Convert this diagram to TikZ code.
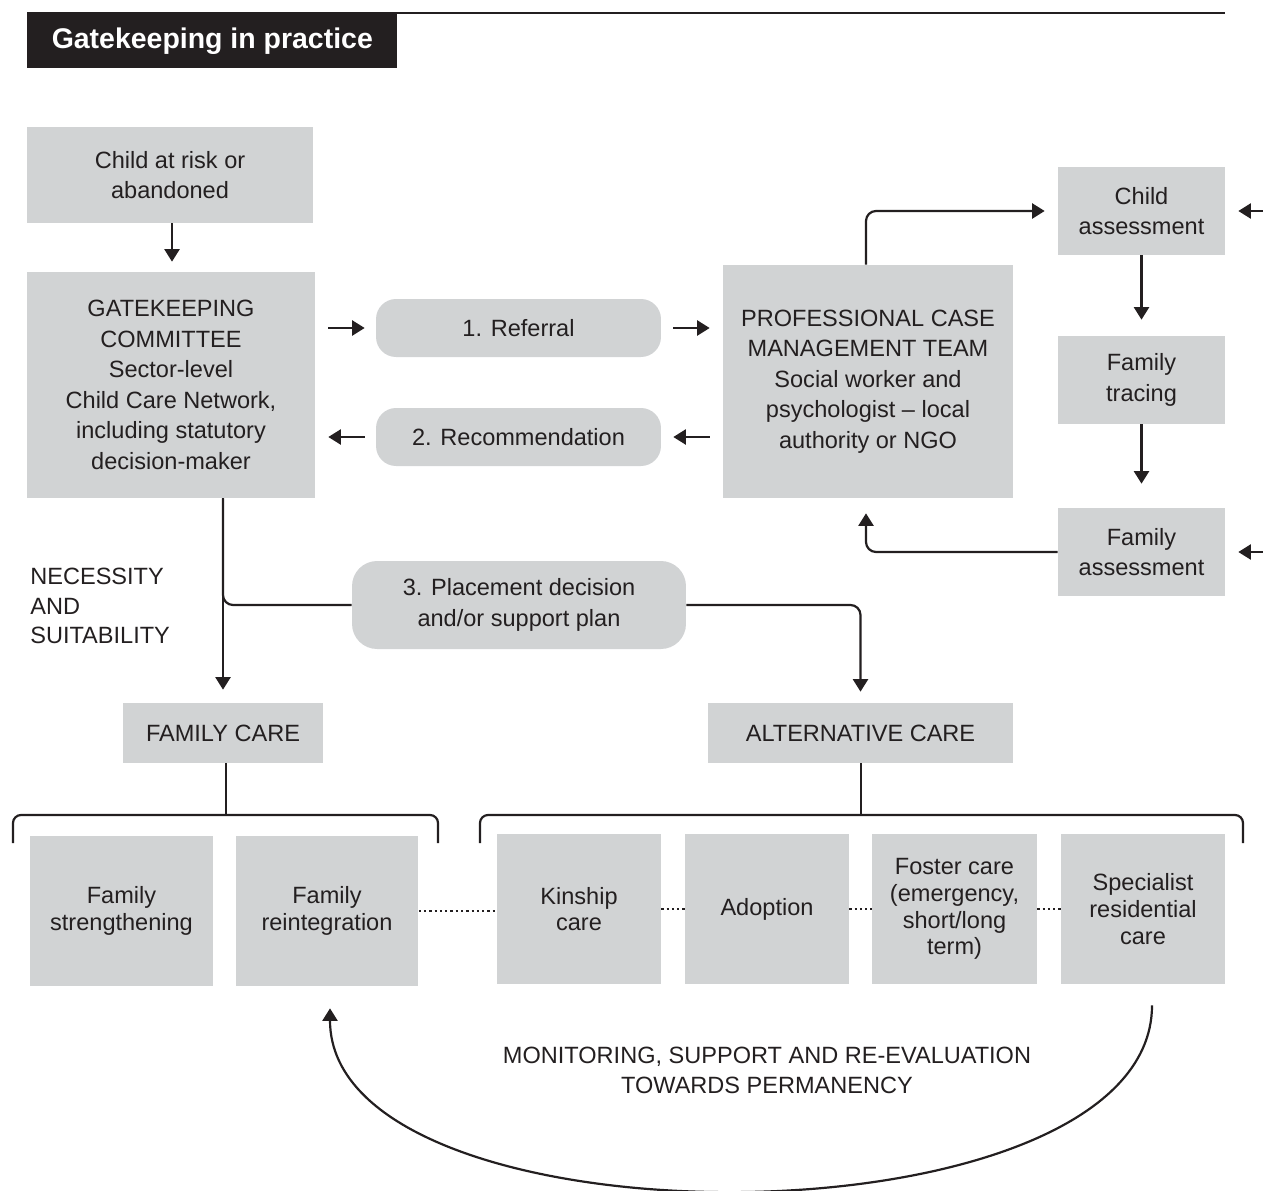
\documentclass[tikz,border=0pt]{standalone}
\usepackage{fontspec}
\setmainfont{Liberation Sans}
\usepackage{tikz}
\usetikzlibrary{arrows.meta, calc}
\definecolor{boxgray}{RGB}{209,211,212}
\definecolor{inkdark}{RGB}{35,31,32}
\tikzstyle{graybox} = [rectangle, fill=boxgray, text=inkdark, align=center, inner sep=2pt, font=\fontsize{13.4}{17.4}\selectfont]
\tikzstyle{carebox} = [graybox, minimum width=3.28cm, minimum height=3cm, font=\fontsize{13.4}{15.2}\selectfont]
\tikzstyle{pill} = [graybox, rounded corners=0.4cm]
\tikzstyle{arrow} = [line width=1.25pt, draw=inkdark, -{Triangle[length=0.25cm, width=0.3cm]}]
\tikzstyle{link} = [line width=1.25pt, draw=inkdark]
\tikzstyle{dotlink} = [line width=1.3pt, draw=inkdark, dash pattern=on 1.3pt off 1.7pt]
\tikzstyle{plaintext} = [text=inkdark, inner sep=0pt, font=\fontsize{13.4}{17.2}\selectfont]

\begin{document}
\begin{tikzpicture}[x=0.02cm, y=-0.02cm]

    \useasboundingbox (0,0) rectangle (1263,1190);

    \node (title) [rectangle, fill=inkdark, text=white, anchor=north west, minimum width=7.4cm, minimum height=1.1cm, font=\fontsize{16.2}{19}\selectfont\bfseries] at (27,13) {Gatekeeping in practice};

    \node (child_at_risk) [graybox, minimum width=5.72cm, minimum height=1.92cm] at (170,175) {Child at risk or\\abandoned};

    \node (gatekeeping_committee) [graybox, minimum width=5.76cm, minimum height=4.52cm] at (171,385) {GATEKEEPING\\COMMITTEE\\Sector-level\\Child Care Network,\\including statutory\\decision-maker};

    \node (referral) [pill, minimum width=5.7cm, minimum height=1.16cm] at (518.5,328) {1. Referral};

    \node (recommendation) [pill, minimum width=5.7cm, minimum height=1.16cm] at (518.5,437) {2. Recommendation};

    \node (case_team) [graybox, minimum width=5.8cm, minimum height=4.66cm] at (868,381.5) {PROFESSIONAL CASE\\MANAGEMENT TEAM\\Social worker and\\psychologist -- local\\authority or NGO};

    \node (child_assessment) [graybox, minimum width=3.34cm, minimum height=1.76cm] at (1141.5,211) {Child\\assessment};

    \node (family_tracing) [graybox, minimum width=3.34cm, minimum height=1.76cm] at (1141.5,380) {Family\\tracing};

    \node (family_assessment) [graybox, minimum width=3.34cm, minimum height=1.76cm] at (1141.5,552) {Family\\assessment};

    \node (placement_decision) [pill, rounded corners=0.5cm, minimum width=6.68cm, minimum height=1.76cm] at (519,605) {3. Placement decision\\and/or support plan};

    \node (necessity) [plaintext, anchor=west, align=left, font=\fontsize{13.4}{17}\selectfont] at (30,606) {NECESSITY\\AND\\SUITABILITY};

    \node (family_care) [graybox, minimum width=4cm, minimum height=1.2cm] at (223,733) {FAMILY CARE};

    \node (alternative_care) [graybox, minimum width=6.1cm, minimum height=1.2cm] at (860.5,733) {ALTERNATIVE CARE};

    \node (family_strengthening) [carebox, minimum width=3.66cm] at (121.5,911) {Family\\strengthening};

    \node (family_reintegration) [carebox, minimum width=3.66cm] at (327,911) {Family\\reintegration};

    \node (kinship_care) [carebox] at (579,909) {Kinship\\care};

    \node (adoption) [carebox] at (767,909) {Adoption};

    \node (foster_care) [carebox, minimum width=3.3cm] at (954.5,909) {Foster care\\(emergency,\\short/long\\term)};

    \node (residential_care) [carebox] at (1143,909) {Specialist\\residential\\care};

    \node (monitoring) [plaintext, align=center] at (767,1070) {MONITORING, SUPPORT AND RE-EVALUATION\\TOWARDS PERMANENCY};

    \coordinate (right_in_top) at (1263,211);
    \coordinate (right_in_bottom) at (1263,552);
    \coordinate (family_bracket) at (226,815);
    \coordinate (alternative_bracket) at (861,815);
    \coordinate (loop_start) at ([xshift=0.18cm, yshift=-0.42cm]residential_care.south);
    \coordinate (loop_end) at ([xshift=0.06cm, yshift=-0.44cm]family_reintegration.south);

    \draw [link, line width=0.04cm] (title.north west) -- (title.north west -| residential_care.east);

    \draw [arrow, shorten >=0.2cm] (child_at_risk.south -| 172,0) -- (gatekeeping_committee.north -| 172,0);

    \draw [arrow, shorten <=0.26cm, shorten >=0.22cm] (gatekeeping_committee.east |- referral.west) -- (referral.west);

    \draw [arrow, shorten <=0.24cm, shorten >=0.26cm] (referral.east) -- (case_team.west |- referral.east);

    \draw [arrow, shorten <=0.26cm, shorten >=0.24cm] (case_team.west |- recommendation.east) -- (recommendation.east);

    \draw [arrow, shorten <=0.22cm, shorten >=0.26cm] (recommendation.west) -- (gatekeeping_committee.east |- recommendation.west);

    \draw [arrow, rounded corners=0.2cm, shorten >=0.26cm] (case_team.north -| 866,0) |- (child_assessment.west);

    \draw [arrow, shorten >=0.26cm] (right_in_top) -- (child_assessment.east);

    \draw [arrow, shorten >=0.32cm] (child_assessment.south) -- (family_tracing.north);

    \draw [arrow, shorten >=0.48cm] (family_tracing.south) -- (family_assessment.north);

    \draw [arrow, shorten >=0.26cm] (right_in_bottom) -- (family_assessment.east);

    \draw [arrow, rounded corners=0.2cm, shorten >=0.3cm] (family_assessment.west) -| (case_team.south -| 866,0);

    \draw [arrow, shorten >=0.26cm] (gatekeeping_committee.south -| family_care.north) -- (family_care.north);

    \draw [link, rounded corners=0.2cm] (gatekeeping_committee.south -| family_care.north) |- (placement_decision.west);

    \draw [arrow, rounded corners=0.2cm, shorten >=0.22cm] (placement_decision.east) -| (alternative_care.north);

    \draw [link] (family_care.south -| family_bracket) -- (family_bracket);

    \draw [link] (alternative_care.south -| alternative_bracket) -- (alternative_bracket);

    \draw [link, rounded corners=0.16cm] (13,843) |- (438,815) -- (438,843);

    \draw [link, rounded corners=0.16cm] (480,843) |- (1243,815) -- (1243,843);

    \draw [dotlink] (family_reintegration.east) -- (kinship_care.west |- family_reintegration.east);

    \draw [dotlink] (kinship_care.east) -- (adoption.west);

    \draw [dotlink] (adoption.east) -- (foster_care.west);

    \draw [dotlink] (foster_care.east) -- (residential_care.west);

    \draw [arrow] (loop_start) .. controls +(0,245) and +(0,245) .. (loop_end);

\end{tikzpicture}
\end{document}
